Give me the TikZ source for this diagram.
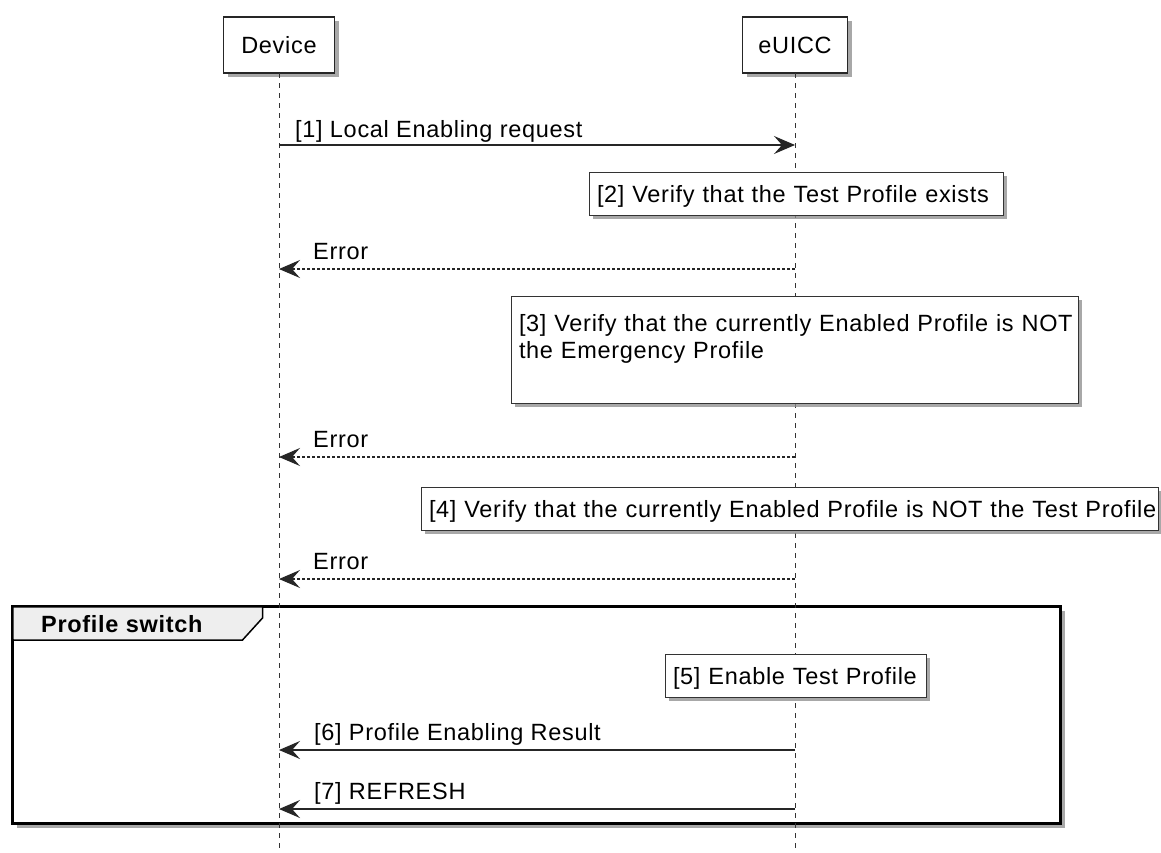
\documentclass[tikz,border=0pt]{standalone}
\usepackage{fontspec}
\setmainfont{Liberation Sans}[LetterSpace=3]
\usetikzlibrary{arrows.meta,shadows}
\definecolor{tabgray}{HTML}{EEEEEE}
\definecolor{linegray}{HTML}{333333}
\begin{document}
\begin{tikzpicture}[x=1pt,y=-1pt,
  font=\fontsize{23.5}{27}\selectfont,
  shad/.style={drop shadow={shadow xshift=4pt, shadow yshift=-4pt, fill=black!45, opacity=0.75}},
  participant/.style={draw=black!85, line width=1.8pt, fill=white, minimum height=56pt, inner sep=0pt, outer sep=0pt, shad},
  note/.style={draw=linegray, line width=1pt, fill=white, align=left, inner xsep=8pt, inner ysep=7pt, outer sep=0pt, anchor=north west, shad},
  oneline/.style={text height=23pt, text depth=6pt},
  lifeline/.style={draw=linegray, line width=1pt, dash pattern=on 5pt off 5pt},
  tip/.style={-{Stealth[length=21pt,width=18pt,inset=8pt]}},
  msg/.style={draw=black!85, line width=1.6pt, tip},
  reply/.style={draw=black!85, line width=1.1pt, dash pattern=on 3pt off 2pt, tip},
  lbl/.style={anchor=base west, inner sep=0pt},
  grpbox/.style={draw=black, line width=3pt, fill=white, inner sep=0pt, outer sep=0pt, anchor=north west, drop shadow={shadow xshift=5pt, shadow yshift=-5pt, fill=black!45, opacity=0.75}},
]
\fill[white] (0,0) rectangle (1161,852);
\useasboundingbox (0,0) rectangle (1161,852);

% group frame
\node[grpbox, minimum width=1048pt, minimum height=217pt] (grp) at (12,606) {};
\fill[tabgray] (13.5,607.5) -- (262,607.5) -- (262,618) -- (242.5,639) -- (13.5,639) -- cycle;
\draw[line width=1.5pt] (262.5,606) -- (262.5,618) -- (242.5,640) -- (12,640);
\node[lbl, font=\fontsize{23.5}{27}\selectfont\bfseries] (tabtxt) at (41,632) {Profile switch};

% participants
\node[participant, minimum width=111pt] (dev) at (279,45) {Device};
\node[participant, minimum width=105pt] (eu) at (795,45) {eUICC};
\coordinate (devbot) at (279,852);
\coordinate (eubot) at (795,852);
\draw[lifeline] (dev.south) -- (devbot);
\draw[lifeline] (eu.south) -- (eubot);

% [1]
\coordinate (d1) at (279,145);
\coordinate (e1) at (795,145);
\draw[msg] (d1) -- (e1);
\node[lbl] (l1) at (295,137) {[1] Local Enabling request};

% [2]
\node[note, oneline, text width=398pt] (n2) at (589,172) {\mbox{[2] Verify that the Test Profile exists}};

% Error 1
\coordinate (d2) at (279,269);
\coordinate (e2) at (795,269);
\draw[reply] (e2) -- (d2);
\node[lbl] (l2) at (313,259) {Error};

% [3]
\node[note, inner ysep=0pt, text width=551pt, minimum height=107pt] (n3) at (511,296) {\mbox{[3] Verify that the currently Enabled Profile is NOT}\\\mbox{the Emergency Profile}\\\mbox{}};

% Error 2
\coordinate (d3) at (279,457);
\coordinate (e3) at (795,457);
\draw[reply] (e3) -- (d3);
\node[lbl] (l3) at (313,447) {Error};

% [4]
\node[note, oneline, text width=721pt] (n4) at (421,487) {\mbox{[4] Verify that the currently Enabled Profile is NOT the Test Profile}};

% Error 3
\coordinate (d4) at (279,579);
\coordinate (e4) at (795,579);
\draw[reply] (e4) -- (d4);
\node[lbl] (l4) at (313,569) {Error};

% [5]
\node[note, oneline, text width=245pt] (n5) at (665,654) {\mbox{[5] Enable Test Profile}};

% [6]
\coordinate (d6) at (279,750);
\coordinate (e6) at (795,750);
\draw[msg] (e6) -- (d6);
\node[lbl] (l6) at (314,740) {[6] Profile Enabling Result};

% [7]
\coordinate (d7) at (279,809);
\coordinate (e7) at (795,809);
\draw[msg] (e7) -- (d7);
\node[lbl] (l7) at (314,799) {[7] REFRESH};
\end{tikzpicture}
\end{document}
